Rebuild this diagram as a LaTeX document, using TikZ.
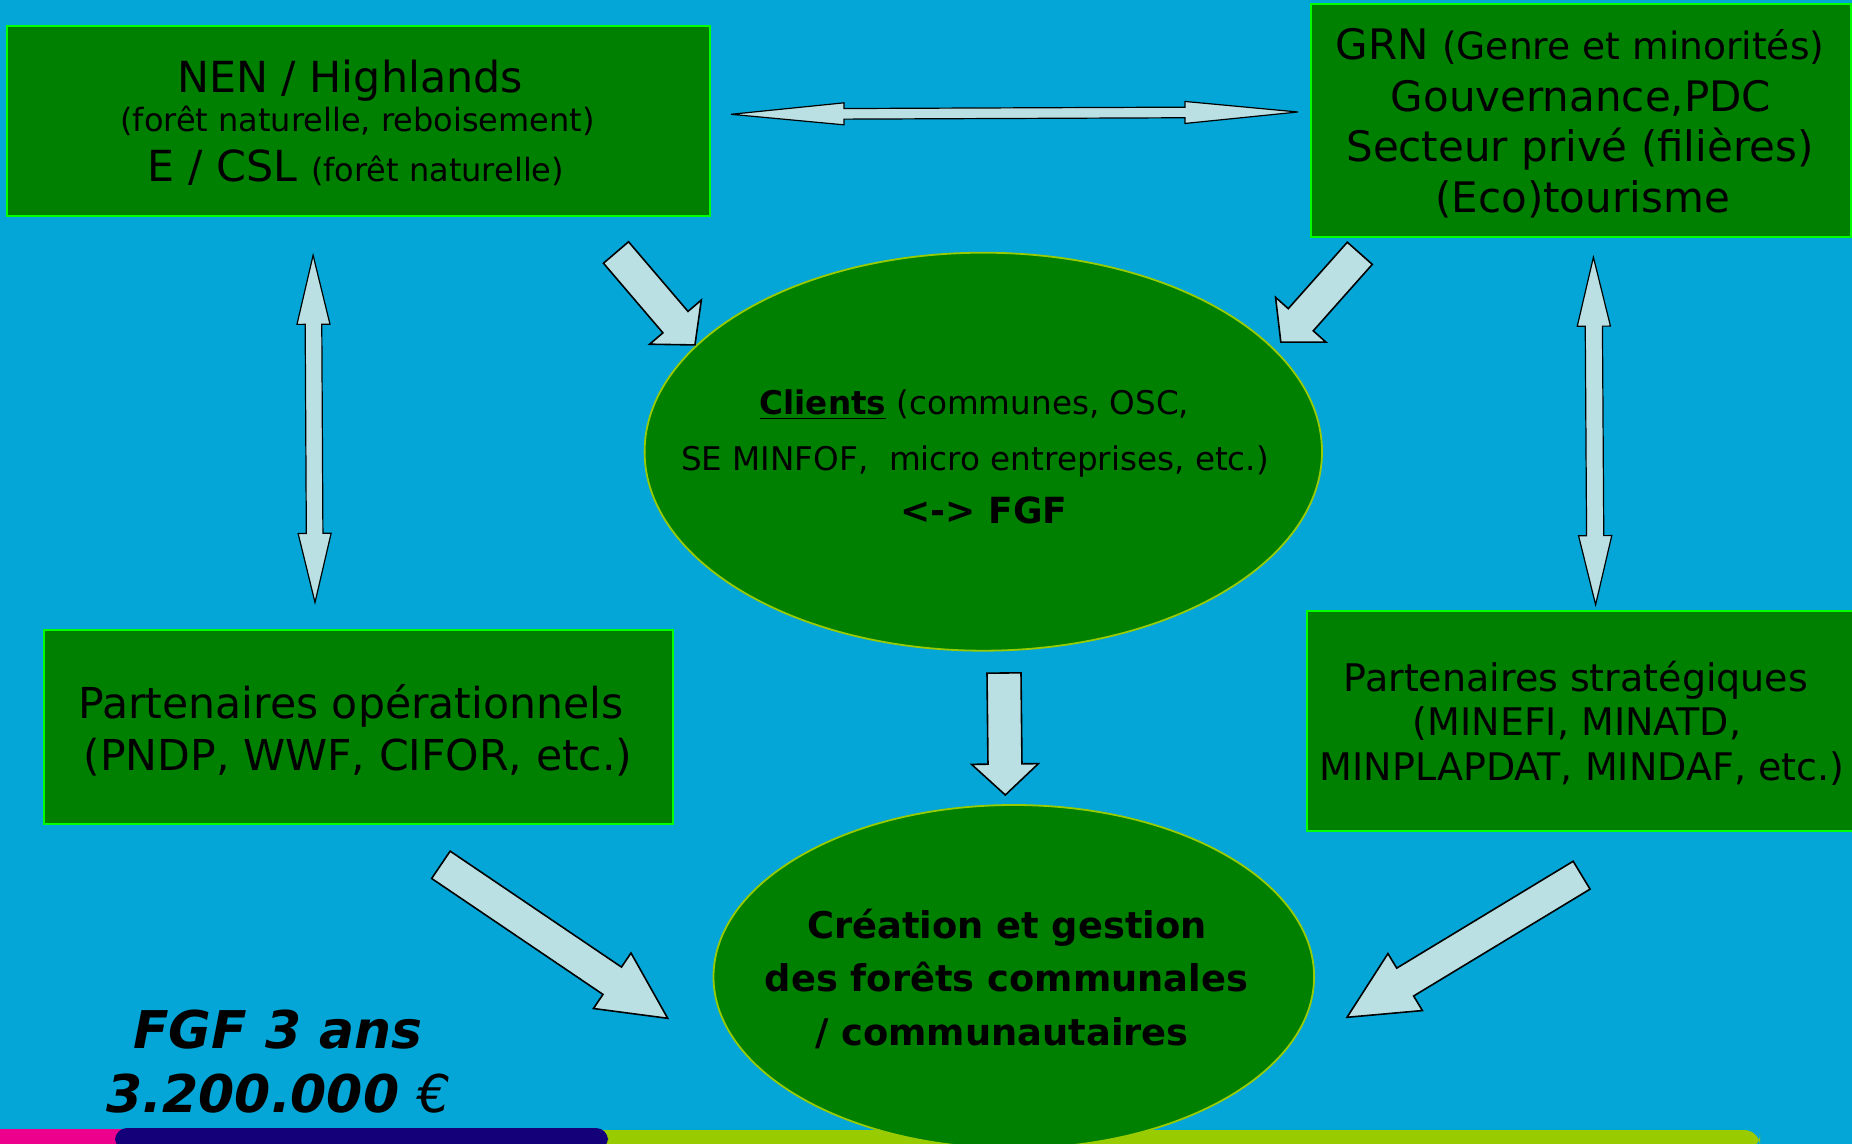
\documentclass[tikz,border=0pt]{standalone}
\usepackage{fontspec}
\setmainfont{DejaVu Sans}
\newfontfamily\eurofont{DejaVu Sans}
\usetikzlibrary{shapes.geometric}
\definecolor{bgblue}{RGB}{3,166,214}
\definecolor{boxgreen}{RGB}{0,128,0}
\definecolor{brightgreen}{RGB}{0,255,0}
\definecolor{limegreen}{RGB}{153,204,0}
\definecolor{arrowfill}{RGB}{187,224,227}
\definecolor{pinkbar}{RGB}{236,0,140}
\definecolor{navybar}{RGB}{20,0,120}
\newcommand\fs[1]{\fontsize{#1}{#1}\selectfont}
\tikzset{
  gbox/.style={rectangle, draw=brightgreen, fill=boxgreen, line width=1pt, inner sep=0},
  gell/.style={ellipse, draw=limegreen, fill=boxgreen, line width=0.9pt, inner sep=0},
  barrow/.style={fill=arrowfill, draw=black, line width=0.8pt, line join=miter},
  barrowthin/.style={fill=arrowfill, draw=black, line width=0.6pt, line join=miter},
  lbl/.style={anchor=base, inner sep=0, text=black},
}
% block arrow: tail, tip, shaft half width, head half width, head length (px)
\newcommand\blockarrow[5]{%
  \pgfpointanchor{#1}{center}\pgfgetlastxy{\bax}{\bay}%
  \pgfpointanchor{#2}{center}\pgfgetlastxy{\bbx}{\bby}%
  \pgfmathsetmacro\bang{atan2((\bby)-(\bay),(\bbx)-(\bax))}%
  \pgfmathsetmacro\blen{veclen((\bbx)-(\bax),(\bby)-(\bay))/0.5}%
  \pgfmathsetmacro\bneck{\blen-#5}%
  \begin{scope}[shift={(#1)},rotate=\bang,x=0.5pt,y=0.5pt]
    \draw[barrow] (0,-#3) -- (\bneck,-#3) -- (\bneck,-#4) -- (\blen,0) -- (\bneck,#4) -- (\bneck,#3) -- (0,#3) -- cycle;
  \end{scope}}
% double block arrow: tip1, tip2, shaft half width, head half width, head length (px)
\newcommand\dblarrow[5]{%
  \pgfpointanchor{#1}{center}\pgfgetlastxy{\bax}{\bay}%
  \pgfpointanchor{#2}{center}\pgfgetlastxy{\bbx}{\bby}%
  \pgfmathsetmacro\bang{atan2((\bby)-(\bay),(\bbx)-(\bax))}%
  \pgfmathsetmacro\blen{veclen((\bbx)-(\bax),(\bby)-(\bay))/0.5}%
  \pgfmathsetmacro\bneck{\blen-#5}%
  \begin{scope}[shift={(#1)},rotate=\bang,x=0.5pt,y=0.5pt]
    \draw[barrowthin] (0,0) -- (#5,-#4) -- (#5,-#3) -- (\bneck,-#3) -- (\bneck,-#4) -- (\blen,0) -- (\bneck,#4) -- (\bneck,#3) -- (#5,#3) -- (#5,#4) -- cycle;
  \end{scope}}
\begin{document}
\begin{tikzpicture}[x=0.5pt,y=-0.5pt]
\useasboundingbox (0,0) rectangle (1852,1144);
\fill[bgblue] (0,0) rectangle (1852,1144);
% bottom strip
\fill[pinkbar] (0,1129) rectangle (130,1144);
\fill[limegreen, rounded corners=8pt] (590,1130) -- (1760,1130) -- (1760,1150) -- (590,1150) -- cycle;
\fill[navybar, rounded corners=6pt] (115,1150) -- (115,1128) -- (608,1128) -- (608,1150) -- cycle;

% boxes
\node[gbox, minimum width=351.5pt, minimum height=95pt] (nen) at (358,121) {};
\node[gbox, minimum width=270.2pt, minimum height=116.35pt] (grn) at (1580.8,120.3) {};
\node[gbox, minimum width=314.7pt, minimum height=97pt] (op) at (358.3,726.6) {};
\node[gbox, minimum width=276.3pt, minimum height=110.4pt] (strat) at (1583.7,720.9) {};
\node[gell, minimum width=338.7pt, minimum height=199pt] (clients) at (983.3,451.7) {};
\node[gell, minimum width=300.3pt, minimum height=171.7pt] (creation) at (1013.8,976.7) {};

% texts
\node[lbl, font={\fs{21.4}}] (nen1) at (350,93) {NEN / Highlands};
\node[lbl, font={\fs{16}}] (nen2) at (357.5,132) {(forêt naturelle, reboisement)};
\node[lbl, font={\fs{21.4}}] (nen3) at (356,182) {E / CSL {\fs{16}(forêt naturelle)}};

\node[lbl, font={\fs{21}}] (grn1) at (1580,60) {GRN {\fs{18.8}(Genre et minorités)}};
\node[lbl, font={\fs{21}}] (grn2) at (1581,112) {Gouvernance,PDC};
\node[lbl, font={\fs{21}}] (grn3) at (1580,162) {Secteur privé (filières)};
\node[lbl, font={\fs{21}}] (grn4) at (1582.6,213) {(Eco)tourisme};

\node[lbl, font={\fs{16.3}}] (cl1) at (974.5,415) {\textbf{\underline{Clients}} (communes, OSC,};
\node[lbl, font={\fs{16.3}}] (cl2) at (975,470) {SE MINFOF,~ micro entreprises, etc.)};
\node[lbl, font={\fs{18}\bfseries}] (cl3) at (984,523) {<-> FGF};

\node[lbl, font={\fs{21.3}}] (op1) at (351,718.4) {Partenaires opérationnels};
\node[lbl, font={\fs{21.3}}] (op2) at (358,770) {(PNDP, WWF, CIFOR, etc.)};

\node[lbl, font={\fs{19}}] (st1) at (1576,691.6) {Partenaires stratégiques};
\node[lbl, font={\fs{19}}] (st2) at (1577,735.6) {(MINEFI, MINATD,};
\node[lbl, font={\fs{19}}] (st3) at (1582,780.4) {MINPLAPDAT, MINDAF, etc.)};

\node[lbl, font={\fs{18.4}\bfseries}] (cr1) at (1007,938.3) {Création et gestion};
\node[lbl, font={\fs{18.4}\bfseries}] (cr2) at (1006.5,991.7) {des forêts communales};
\node[lbl, font={\fs{18.4}\bfseries}] (cr3) at (1002,1045) {/ communautaires};

\node[lbl, font={\fs{26}\bfseries\itshape}] (fgf1) at (278,1048) {FGF 3 ans};
\node[lbl, font={\fs{26}\bfseries\itshape}] (fgf2) at (278.5,1112) {3.200.000 {\eurofont\fontseries{m}\itshape €}};

% arrow end points
\coordinate (aAt) at (616,252.5);   \coordinate (aAh) at (695,345);
\coordinate (aBt) at (1359.8,253.3); \coordinate (aBh) at (1280.7,342.3);
\coordinate (aCt) at (1004,673);    \coordinate (aCh) at (1005.3,795);
\coordinate (aDt) at (440.9,864.8); \coordinate (aDh) at (667.7,1018.3);
\coordinate (aEt) at (1581.6,875.2); \coordinate (aEh) at (1347,1017.3);
\coordinate (vL1) at (313.1,255.3); \coordinate (vL2) at (315,602.4);
\coordinate (vR1) at (1593.4,257.2); \coordinate (vR2) at (1595.6,604.7);
\coordinate (hz1) at (731,114.3);   \coordinate (hz2) at (1298,112);

\blockarrow{aAt}{aAh}{16.5}{34}{30}
\blockarrow{aBt}{aBh}{16.7}{33.7}{30}
\blockarrow{aCt}{aCh}{17}{33.4}{31}
\blockarrow{aDt}{aDh}{16.5}{33.5}{67}
\blockarrow{aEt}{aEh}{16.3}{33.3}{68}
\dblarrow{vL1}{vL2}{8.3}{16.5}{69}
\dblarrow{vR1}{vR2}{8.6}{16.6}{69}
\dblarrow{hz1}{hz2}{5.3}{11}{113}
\end{tikzpicture}
\end{document}
